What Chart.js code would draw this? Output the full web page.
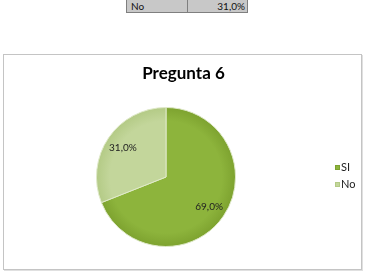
<!DOCTYPE html>
<html>
<head>
<meta charset="utf-8">
<script src="https://cdn.jsdelivr.net/npm/chart.js@4"></script>
<style>
    body { margin: 0; background: #fff; width: 368px; height: 275px; overflow: hidden; position: relative; font-family: Lato, 'Open Sans', sans-serif; }
    .table-row { position: absolute; left: 126px; top: -2px; width: 120px; height: 13px; background: #c8c8c8; border: 1px solid #7f7f7f; font-size: 10px; color: #111; }
    .table-row .cell { position: absolute; top: 1px; line-height: 12px; }
    .table-row .divider { position: absolute; left: 60px; top: 0; bottom: 0; width: 1px; background: #7f7f7f; }
    .chart-box { position: absolute; left: 3px; top: 54px; width: 357px; height: 214px; border: 1px solid #c4c4c4; box-shadow: 1px 1px 0 #e0e0e0; }
</style>
</head>
<body>
<div class="table-row">
    <span class="cell" style="left:4px">No</span>
    <span class="divider"></span>
    <span class="cell" style="right:2px">31,0%</span>
</div>
<div class="chart-box">
    <canvas id="pieChart" width="357" height="214"></canvas>
</div>
<script>
// Pregunta 6 data
const chartTitle = 'Pregunta 6';
const labels = ['SI', 'No'];
const values = [69.0, 31.0];
const baseColors = ['#8db43c', '#c3d69b'];
const edgeColors = ['#7da22f', '#b3ca85'];

const fontFamily = 'Lato, "Open Sans", sans-serif';

// Format as Spanish percentage
function formatPercent(v) {
    return v.toFixed(1).replace('.', ',') + '%';
}

// Radial gradient per slice, slightly darker near the rim
function sliceFill(context) {
    const chart = context.chart;
    const area = chart.chartArea;
    const i = context.dataIndex;
    if (!area || !isFinite(area.left)) return baseColors[i];
    const cx = (area.left + area.right) / 2;
    const cy = (area.top + area.bottom) / 2;
    const r = Math.min(area.right - area.left, area.bottom - area.top) / 2;
    if (!isFinite(r) || r <= 0) return baseColors[i];
    const g = chart.ctx.createRadialGradient(cx, cy, 0, cx, cy, r);
    g.addColorStop(0, baseColors[i]);
    g.addColorStop(0.8, baseColors[i]);
    g.addColorStop(1, edgeColors[i]);
    return g;
}

// Percent labels at 3/4 of the radius
const pieLabels = {
    id: 'pieLabels',
    afterDatasetsDraw(chart) {
        const { ctx } = chart;
        const meta = chart.getDatasetMeta(0);
        ctx.save();
        ctx.font = '10px ' + fontFamily;
        ctx.fillStyle = '#222';
        ctx.textAlign = 'center';
        ctx.textBaseline = 'middle';
        meta.data.forEach((arc, i) => {
            const p = arc.getProps(['x', 'y', 'startAngle', 'endAngle', 'outerRadius'], true);
            const mid = (p.startAngle + p.endAngle) / 2;
            const d = p.outerRadius * 0.75;
            ctx.fillText(formatPercent(values[i]), p.x + Math.cos(mid) * d, p.y + Math.sin(mid) * d);
        });
        ctx.restore();
    }
};

// Title centred on the whole chart box, not only the plot area
const boxTitle = {
    id: 'boxTitle',
    afterDraw(chart) {
        const { ctx } = chart;
        ctx.save();
        ctx.font = 'bold 17px ' + fontFamily;
        ctx.fillStyle = '#000';
        ctx.textAlign = 'center';
        ctx.textBaseline = 'alphabetic';
        ctx.fillText(chartTitle, chart.width / 2 + 1, 24);
        ctx.restore();
    }
};

// Legend to the right of the pie, vertically centred on it
const sideLegend = {
    id: 'sideLegend',
    afterDraw(chart) {
        const { ctx, chartArea } = chart;
        const cy = (chartArea.top + chartArea.bottom) / 2 - 1.5;
        const x = chartArea.right + 27;
        const rowGap = 17;
        ctx.save();
        ctx.font = '11px ' + fontFamily;
        ctx.textBaseline = 'middle';
        ctx.textAlign = 'left';
        labels.forEach((l, i) => {
            const y = Math.round(cy + (i - (labels.length - 1) / 2) * rowGap);
            ctx.fillStyle = baseColors[i];
            ctx.fillRect(x, y - 2, 5, 5);
            ctx.strokeStyle = edgeColors[i];
            ctx.lineWidth = 1;
            ctx.strokeRect(x + 0.5, y - 1.5, 4, 4);
            ctx.fillStyle = '#222';
            ctx.fillText(l, x + 6, y);
        });
        ctx.restore();
    }
};

document.addEventListener('DOMContentLoaded', () => {
    const ctx = document.getElementById('pieChart').getContext('2d');
    new Chart(ctx, {
        type: 'pie',
        data: {
            labels: labels,
            datasets: [{
                data: values,
                backgroundColor: sliceFill,
                borderColor: '#dfe9c9',
                borderWidth: 1
            }]
        },
        plugins: [pieLabels, boxTitle, sideLegend],
        options: {
            responsive: false,
            animation: false,
            layout: { padding: { left: 20, right: 53, top: 52, bottom: 22 } },
            plugins: {
                title: { display: false },
                legend: { display: false },
                tooltip: { enabled: false }
            }
        }
    });
});
</script>
</body>
</html>
